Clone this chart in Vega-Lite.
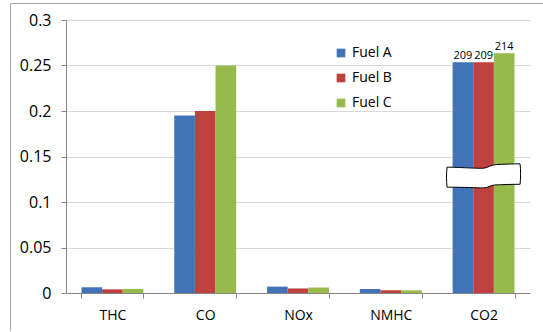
{
  "$schema": "https://vega.github.io/schema/vega-lite/v6.json",
  "width": 534,
  "height": 328,
  "autosize": "none",
  "padding": {"left": 10, "top": 3, "right": 0, "bottom": 0},
  "config": {
    "font": "Open Sans",
    "view": {"stroke": "#a6a6a6", "strokeWidth": 1},
    "legend": {
      "orient": "none",
      "legendX": 324,
      "legendY": 43,
      "title": null,
      "labelFont": "Open Sans",
      "labelFontSize": 14,
      "labelColor": "#000000",
      "symbolType": "square",
      "symbolSize": 75,
      "symbolStrokeWidth": 0,
      "labelOffset": 4,
      "rowPadding": 11
    }
  },
  "datasets": {
    "emissions": [
      {"pollutant": "THC", "fuel": "Fuel A", "value": 0.0063},
      {"pollutant": "THC", "fuel": "Fuel B", "value": 0.004},
      {"pollutant": "THC", "fuel": "Fuel C", "value": 0.0045},
      {"pollutant": "CO", "fuel": "Fuel A", "value": 0.195},
      {"pollutant": "CO", "fuel": "Fuel B", "value": 0.2},
      {"pollutant": "CO", "fuel": "Fuel C", "value": 0.25},
      {"pollutant": "NOx", "fuel": "Fuel A", "value": 0.007},
      {"pollutant": "NOx", "fuel": "Fuel B", "value": 0.005},
      {"pollutant": "NOx", "fuel": "Fuel C", "value": 0.006},
      {"pollutant": "NMHC", "fuel": "Fuel A", "value": 0.0044},
      {"pollutant": "NMHC", "fuel": "Fuel B", "value": 0.003},
      {"pollutant": "NMHC", "fuel": "Fuel C", "value": 0.003}
    ],
    "co2": [
      {"pollutant": "CO2", "fuel": "Fuel A", "value": 209},
      {"pollutant": "CO2", "fuel": "Fuel B", "value": 209},
      {"pollutant": "CO2", "fuel": "Fuel C", "value": 214}
    ],
    "axisBreak": [
      {"pollutant": "CO2", "level": 146}
    ]
  },
  "layer": [
    {
      "data": {"name": "emissions"},
      "mark": {"type": "bar"},
      "encoding": {
        "x": {
          "field": "pollutant",
          "type": "nominal",
          "scale": {
            "domain": ["THC", "CO", "NOx", "NMHC", "CO2"],
            "range": [56, 520],
            "paddingInner": 0.333,
            "paddingOuter": 0.167
          },
          "axis": {
            "title": null,
            "orient": "bottom",
            "offset": -38,
            "labelAngle": 0,
            "labelFontSize": 14,
            "labelColor": "#000000",
            "labelPadding": 10,
            "tickBand": "extent",
            "tickSize": 5,
            "tickColor": "#868686",
            "domainColor": "#868686",
            "grid": false
          }
        },
        "xOffset": {
          "field": "fuel",
          "type": "nominal",
          "scale": {"domain": ["Fuel A", "Fuel B", "Fuel C"], "paddingInner": 0, "paddingOuter": 0}
        },
        "y": {
          "field": "value",
          "type": "quantitative",
          "scale": {"domain": [0, 0.3], "range": [290, 17]},
          "axis": {
            "title": null,
            "orient": "left",
            "offset": -56,
            "values": [0, 0.05, 0.1, 0.15, 0.2, 0.25, 0.3],
            "format": ".2~f",
            "labelFontSize": 16,
            "labelColor": "#000000",
            "labelPadding": 10,
            "tickSize": 5,
            "tickColor": "#868686",
            "domainColor": "#868686",
            "grid": true,
            "gridColor": "#d9d9d9"
          }
        },
        "color": {
          "field": "fuel",
          "type": "nominal",
          "scale": {"domain": ["Fuel A", "Fuel B", "Fuel C"], "range": ["#4173b8", "#be4140", "#97ba4c"]}
        }
      }
    },
    {
      "layer": [
        {
          "data": {"name": "co2"},
          "mark": {"type": "bar"},
          "encoding": {
            "x": {"field": "pollutant", "type": "nominal"},
            "xOffset": {"field": "fuel", "type": "nominal"},
            "y": {
              "field": "value",
              "type": "quantitative",
              "scale": {"domain": [81, 232.5], "zero": false, "nice": false, "range": [290, 17]},
              "axis": null
            },
            "y2": {"datum": 81},
            "color": {"field": "fuel", "type": "nominal"}
          }
        },
        {
          "data": {"name": "co2"},
          "mark": {"type": "text", "baseline": "bottom", "dy": -1, "fontSize": 11, "font": "Open Sans", "color": "#000000"},
          "encoding": {
            "x": {"field": "pollutant", "type": "nominal"},
            "xOffset": {"field": "fuel", "type": "nominal"},
            "y": {"field": "value", "type": "quantitative"},
            "text": {"field": "value", "type": "quantitative"}
          }
        },
        {
          "data": {"name": "axisBreak"},
          "mark": {
            "type": "point",
            "shape": "M -1 -0.24 C -0.5 -0.23 -0.2 -0.2 0 -0.21 C 0.12 -0.22 0.18 -0.3 0.35 -0.31 C 0.6 -0.32 0.8 -0.33 1 -0.33 C 1.02 -0.15 1.02 0.05 1 0.23 C 0.8 0.23 0.5 0.24 0.3 0.25 C 0.18 0.26 0.12 0.33 0 0.33 C -0.2 0.33 -0.5 0.31 -1 0.31 C -1.02 0.13 -1.02 -0.06 -1 -0.24 Z",
            "size": 5329,
            "filled": true,
            "fill": "#ffffff",
            "stroke": "#000000",
            "strokeWidth": 1,
            "opacity": 1
          },
          "encoding": {
            "x": {"field": "pollutant", "type": "nominal"},
            "y": {"field": "level", "type": "quantitative"}
          }
        }
      ]
    }
  ],
  "resolve": {"scale": {"y": "independent"}}
}
